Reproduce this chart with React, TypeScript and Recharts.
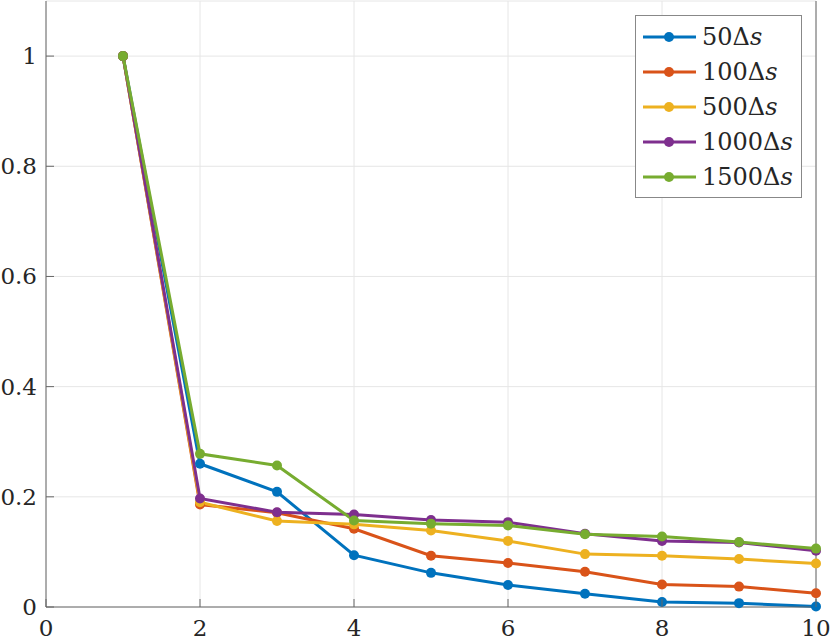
import { LineChart, Line, XAxis, YAxis, CartesianGrid } from "recharts";

// valeurs
const steps = [1, 2, 3, 4, 5, 6, 7, 8, 9, 10];
const s50 = [1, 0.26, 0.209, 0.094, 0.062, 0.04, 0.024, 0.009, 0.007, 0.001];
const s100 = [1, 0.186, 0.171, 0.142, 0.093, 0.08, 0.064, 0.041, 0.037, 0.025];
const s500 = [1, 0.19, 0.156, 0.15, 0.139, 0.12, 0.096, 0.093, 0.087, 0.079];
const s1000 = [1, 0.197, 0.172, 0.168, 0.158, 0.154, 0.133, 0.12, 0.117, 0.102];
const s1500 = [1, 0.278, 0.257, 0.157, 0.151, 0.148, 0.132, 0.128, 0.118, 0.106];

const xTicks = [0, 2, 4, 6, 8, 10];
const yTicks = [0, 0.2, 0.4, 0.6, 0.8, 1];

const series = [
  { key: "s50", label: "50", color: "#0072BD", values: s50 },
  { key: "s100", label: "100", color: "#D95319", values: s100 },
  { key: "s500", label: "500", color: "#EDB120", values: s500 },
  { key: "s1000", label: "1000", color: "#7E2F8E", values: s1000 },
  { key: "s1500", label: "1500", color: "#77AC30", values: s1500 },
];

const data = steps.map((x, i) => {
  const row: Record<string, number> = { x };
  series.forEach((s) => (row[s.key] = s.values[i]));
  return row;
});

const FONT = "DejaVu Serif";
const AXIS = "#666";
const TXT = "#262626";

const BottomTick = ({ x, y, payload }: any) => (
  <g>
    <line x1={x} y1={y} x2={x} y2={y - 8} stroke={AXIS} />
    <text x={x} y={y + 29} textAnchor="middle" style={{ fontFamily: FONT }} fontSize={23} fill={TXT}>
      {payload.value}
    </text>
  </g>
);
const TopTick = ({ x, y }: any) => <line x1={x} y1={y} x2={x} y2={y + 8} stroke={AXIS} />;
const LeftTick = ({ x, y, payload }: any) => (
  <g>
    <line x1={x} y1={y} x2={x + 8} y2={y} stroke={AXIS} />
    <text x={x - 9} y={y + 8} textAnchor="end" style={{ fontFamily: FONT }} fontSize={23} fill={TXT}>
      {payload.value}
    </text>
  </g>
);
const RightTick = ({ x, y }: any) => <line x1={x} y1={y} x2={x - 8} y2={y} stroke={AXIS} />;

const LegendBox = () => (
  <div
    style={{
      position: "absolute",
      left: 635,
      top: 15,
      border: "1px solid #888",
      background: "#fff",
      padding: "3px 0 3px 0",
      width: 167,
      boxSizing: "border-box",
      fontFamily: FONT,
      fontSize: 24,
      color: TXT,
    }}
  >
    {series.map((s) => (
      <div key={s.key} style={{ display: "flex", alignItems: "center", height: 35 }}>
        <svg width={66} height={12} style={{ flex: "none" }}>
          <line x1={7} y1={6} x2={60} y2={6} stroke={s.color} strokeWidth={3} />
          <circle cx={33} cy={6} r={5} fill={s.color} />
        </svg>
        <span>
          {s.label}Δ<i>s</i>
        </span>
      </div>
    ))}
  </div>
);

export default function App() {
  return (
    <div style={{ position: "absolute", left: 0, top: 0, width: 830, height: 642, background: "#fff" }}>
      <LineChart width={830} height={642} data={data} margin={{ top: 1, right: 0, bottom: 0, left: 0 }}>
        <CartesianGrid stroke="#e6e6e6" />
        <XAxis
          dataKey="x"
          type="number"
          domain={[0, 10]}
          ticks={xTicks}
          height={35}
          tickSize={0}
          tickMargin={0}
          tickLine={false}
          axisLine={{ stroke: AXIS }}
          tick={<BottomTick />}
          interval={0}
        />
        <XAxis
          xAxisId="top"
          orientation="top"
          dataKey="x"
          type="number"
          domain={[0, 10]}
          ticks={xTicks}
          height={0}
          tickSize={0}
          tickMargin={0}
          tickLine={false}
          axisLine={{ stroke: AXIS }}
          tick={<TopTick />}
          interval={0}
        />
        <YAxis
          type="number"
          domain={[0, 1.1]}
          ticks={yTicks}
          width={46}
          tickSize={0}
          tickMargin={0}
          tickLine={false}
          axisLine={{ stroke: AXIS }}
          tick={<LeftTick />}
          interval={0}
        />
        <YAxis
          yAxisId="right"
          orientation="right"
          type="number"
          domain={[0, 1.1]}
          ticks={yTicks}
          width={14}
          tickSize={0}
          tickMargin={0}
          tickLine={false}
          axisLine={{ stroke: AXIS }}
          tick={<RightTick />}
          interval={0}
        />
        {series.map((s) => (
          <Line
            key={s.key}
            dataKey={s.key}
            stroke={s.color}
            strokeWidth={3}
            dot={{ r: 5, fill: s.color, stroke: s.color, strokeWidth: 0 }}
            activeDot={false}
            isAnimationActive={false}
          />
        ))}
      </LineChart>
      <LegendBox />
    </div>
  );
}
